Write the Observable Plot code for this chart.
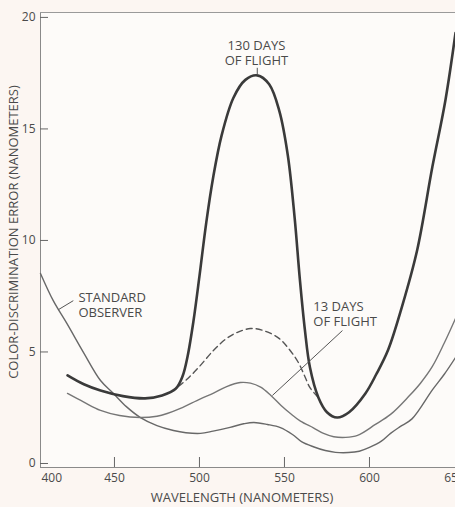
<!DOCTYPE html>
<html>
<head>
<meta charset="utf-8">
<script src="https://cdn.jsdelivr.net/npm/d3@7"></script>
<script src="https://cdn.jsdelivr.net/npm/@observablehq/plot@0.6"></script>
<style>
  html, body { margin: 0; padding: 0; background: #fcf6f2; }
  #chart svg { display: block; }
</style>
</head>
<body>
<div id="chart"></div>
<script>
// ---- axes ----
const xDomain = [406.5, 650.6];
const yDomain = [-0.18, 20.22];
const xTickLabels = [450, 500, 550, 600, 650];
const xTickMarks = [450, 500, 550, 600];
const xCornerLabel = ["400"];
const yTicks = [0, 5, 10, 15, 20];
const xLabel = ["WAVELENGTH (NANOMETERS)"];
const yLabel = ["COLOR-DISCRIMINATION ERROR (NANOMETERS)"];

// ---- series: [wavelength nm, error nm] ----
const flight130 = [
  [422.4,3.95],[432,3.55],[441.8,3.27],[455,3.02],[468,2.92],[478,3.05],[486,3.35],
  [490,3.9],[493,4.8],[496.5,6.4],[500,8.4],[504,10.8],[508,12.8],[513,14.7],
  [520,16.4],[527,17.2],[534,17.4],[541,17.0],[547,15.8],[552,13.8],[556,11.0],
  [559,8.3],[562,6.0],[565,4.3],[570,2.95],[575,2.3],[581,2.06],[588,2.3],
  [597.6,3.14],[604,4.0],[611,5.1],[619,7.0],[628,9.55],[637,13.3],[644.7,16.3],[650.6,19.3]
];
const flight130Dashed = [
  [487.6,3.45],[493,3.8],[500,4.35],[508,5.05],[515,5.55],[522,5.87],[530,6.05],
  [538,5.95],[547,5.6],[553,5.1],[558,4.55],[562,3.9],[565,3.4],[570,2.95]
];
const flight13 = [
  [422.4,3.14],[432,2.75],[441.8,2.38],[453,2.15],[465.3,2.06],[475,2.12],[481,2.24],
  [488.8,2.47],[500.6,2.9],[508,3.14],[516,3.45],[524,3.63],[530,3.6],[536,3.42],
  [542,3.05],[548,2.6],[553.5,2.24],[559.4,1.9],[567,1.6],[573,1.35],[579,1.2],
  [586,1.17],[593,1.26],[603.5,1.75],[612.4,2.2],[623,3.0],[630,3.6],[637,4.35],
  [644,5.4],[650.6,6.5]
];
const standardObserver = [
  [406.5,8.52],[414,7.3],[422,6.28],[432,4.95],[441.8,3.72],[449.4,3.14],[457,2.55],
  [465.3,2.06],[475,1.7],[484.7,1.48],[492,1.38],[500.6,1.35],[508,1.45],[518,1.62],
  [526,1.78],[532,1.84],[540,1.75],[547.6,1.61],[554.7,1.3],[560,0.98],[567,0.75],
  [574,0.58],[580,0.5],[587.6,0.49],[594,0.55],[600,0.72],[607,1.0],[612.4,1.35],
  [618,1.65],[625,2.0],[637,3.3],[644,4.0],[650.6,4.75]
];

// ---- annotations ----
const label130 = [{x: 533.5, y: 18.4, text: "130 DAYS\nOF FLIGHT"}];
const labelStd = [{x: 428.8, y: 7.13, text: "STANDARD\nOBSERVER"}];
const label13 = [{x: 567, y: 6.72, text: "13 DAYS\nOF FLIGHT"}];
const leaders = [
  {x1: 534, y1: 17.74, x2: 534, y2: 17.42},
  {x1: 425.8, y1: 7.3, x2: 417.1, y2: 6.9},
  {x1: 584.1, y1: 5.96, x2: 542.9, y2: 3.05}
];

const ink = "#4a4a4a";
const font = "Open Sans, DejaVu Sans, sans-serif";
const annot = {x: "x", y: "y", text: "text", lineAnchor: "middle", fontSize: 13,
  lineHeight: 1.15, fill: ink};

const chart = Plot.plot({
  width: 455,
  height: 507,
  marginLeft: 40,
  marginRight: 0,
  marginTop: 12,
  marginBottom: 40,
  style: {background: "#fcf6f2", fontFamily: font, color: ink},
  x: {domain: xDomain},
  y: {domain: yDomain},
  marks: [
    Plot.frame({fill: "#fdfbf9", stroke: null}),
    // frame lines
    Plot.ruleX([xDomain[0]], {stroke: "#8a8a8a", strokeWidth: 1}),
    Plot.ruleY([yDomain[0]], {stroke: "#8a8a8a", strokeWidth: 1}),
    Plot.ruleY([yDomain[1]], {stroke: "#9a9a9a", strokeWidth: 1}),
    // ticks (inward)
    Plot.axisX(xTickMarks, {tickSize: -10, tickFormat: () => "", label: null, stroke: "#666"}),
    Plot.axisY(yTicks, {tickSize: -8, tickFormat: () => "", label: null, stroke: "#666"}),
    // tick labels
    Plot.axisX(xTickLabels, {tickSize: 0, tickPadding: 6, fontSize: 12, fill: ink, label: null}),
    Plot.axisY(yTicks, {tickSize: 0, tickPadding: 5, fontSize: 12, fill: ink, label: null}),
    Plot.text(xCornerLabel, {x: xDomain[0], y: yDomain[0], text: d => d, textAnchor: "start",
      lineAnchor: "top", dy: 6, dx: 1, fontSize: 12, fill: ink}),
    // axis titles
    Plot.text(xLabel, {frameAnchor: "bottom", text: d => d, dy: 30, dx: -6,
      textAnchor: "middle", lineAnchor: "middle", fontSize: 13, fill: ink}),
    Plot.text(yLabel, {frameAnchor: "left", text: d => d, rotate: -90, dx: -27, dy: -8,
      textAnchor: "middle", lineAnchor: "middle", fontSize: 13, fill: ink}),
    // curves
    Plot.line(standardObserver, {x: d => d[0], y: d => d[1], curve: "catmull-rom",
      stroke: "#686868", strokeWidth: 1.4}),
    Plot.line(flight13, {x: d => d[0], y: d => d[1], curve: "catmull-rom",
      stroke: "#767676", strokeWidth: 1.4}),
    Plot.line(flight130Dashed, {x: d => d[0], y: d => d[1], curve: "catmull-rom",
      stroke: "#555", strokeWidth: 1.4, strokeDasharray: "6,4"}),
    Plot.line(flight130, {x: d => d[0], y: d => d[1], curve: "catmull-rom",
      stroke: "#3a3a3a", strokeWidth: 2.6}),
    // annotations
    Plot.link(leaders, {x1: "x1", y1: "y1", x2: "x2", y2: "y2", stroke: "#555", strokeWidth: 1}),
    Plot.text(label130, {...annot, textAnchor: "middle"}),
    Plot.text(labelStd, {...annot, textAnchor: "start"}),
    Plot.text(label13, {...annot, textAnchor: "start"})
  ]
});
document.getElementById("chart").appendChild(chart);
</script>
</body>
</html>
